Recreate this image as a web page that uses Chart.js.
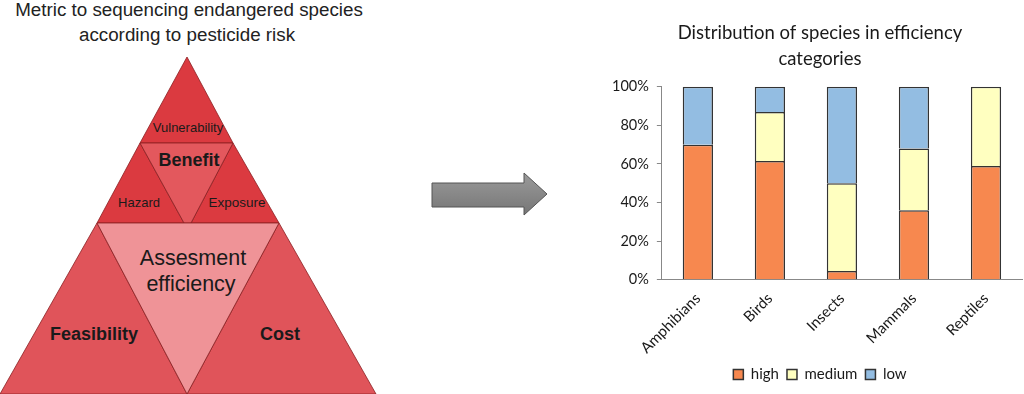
<!DOCTYPE html>
<html>
<head>
<meta charset="utf-8">
<script src="https://cdn.jsdelivr.net/npm/chart.js@4.4.1/dist/chart.umd.min.js"></script>
<style>
  html, body { margin: 0; padding: 0; background: #fff; width: 1024px; height: 394px; overflow: hidden; }
  #left { position: absolute; left: 0; top: 0; }
  #wrap { position: absolute; left: 600px; top: 0; width: 440px; height: 394px; }
</style>
</head>
<body>
<svg id="left" width="600" height="394" xmlns="http://www.w3.org/2000/svg">
  <defs>
    <linearGradient id="ag" x1="0" y1="0" x2="0" y2="1">
      <stop offset="0" stop-color="#9a9a9a"/>
      <stop offset="1" stop-color="#767676"/>
    </linearGradient>
  </defs>
  <g font-family="Liberation Sans, Arial, sans-serif" fill="#222">
    <text x="189" y="16" font-size="18.8" text-anchor="middle">Metric to sequencing endangered species</text>
    <text x="187" y="41" font-size="18.8" text-anchor="middle">according to pesticide risk</text>
  </g>
  <g stroke="#8a1f22" stroke-width="0.8" stroke-linejoin="round">
    <polygon points="187,57 233,143 140,143" fill="#db3a40"/>
    <polygon points="140,143 184,223 97,223" fill="#db3a40"/>
    <polygon points="233,143 279,223 191,223" fill="#db3a40"/>
    <polygon points="140,143 233,143 191,223 184,223" fill="#e3585d"/>
    <polygon points="97,223 187,394 0,394" fill="#e0545a"/>
    <polygon points="279,223 376,394 187,394" fill="#e0545a"/>
    <polygon points="97,223 279,223 187,394" fill="#ef9397"/>
  </g>
  <g font-family="Liberation Sans, Arial, sans-serif" fill="#1a1a1a" text-anchor="middle">
    <text x="188" y="132" font-size="13">Vulnerability</text>
    <text x="189" y="166" font-size="18" font-weight="bold">Benefit</text>
    <text x="139" y="207" font-size="13">Hazard</text>
    <text x="237" y="207" font-size="13.5">Exposure</text>
    <text x="193" y="265" font-size="21.5">Assesment</text>
    <text x="191" y="291" font-size="21.5">efficiency</text>
    <text x="94" y="340" font-size="18" font-weight="bold">Feasibility</text>
    <text x="280" y="340" font-size="18" font-weight="bold">Cost</text>
  </g>
  <polygon points="432,183 524,183 524,173 547,194 524,215 524,207 432,207" fill="url(#ag)" stroke="#555" stroke-width="1"/>
</svg>
<div id="wrap"><canvas id="c" width="440" height="394"></canvas></div>
<script>
const categories = ['Amphibians', 'Birds', 'Insects', 'Mammals', 'Reptiles'];
const seriesNames = ['high', 'medium', 'low'];
const highValues = [70, 61.5, 4.5, 36, 59];
const mediumValues = [0, 25.5, 45.5, 32, 41];
const lowValues = [30, 13, 50, 32, 0];
const yTickValues = [0, 20, 40, 60, 80, 100];
const chartTitle = ['Distribution of species in efficiency', 'categories'];

const colors = ['#f7884f', '#ffffc0', '#93bde2'];
const fontFamily = 'Lato, "Open Sans", sans-serif';

const ds = [highValues, mediumValues, lowValues].map((vals, i) => ({
  label: seriesNames[i],
  data: vals.map(v => (v === 0 ? null : v)),
  backgroundColor: colors[i],
  borderColor: '#333333',
  borderWidth: 1.5,
  borderSkipped: 'start',
  barPercentage: 0.42,
  categoryPercentage: 1.0
}));

new Chart(document.getElementById('c'), {
  type: 'bar',
  data: { labels: categories, datasets: ds },
  options: {
    responsive: false,
    devicePixelRatio: 1,
    animation: false,
    layout: { padding: { left: 4, right: 4, top: 0, bottom: 2 } },
    plugins: {
      title: {
        display: true,
        text: chartTitle,
        color: '#1a1a1a',
        font: { family: fontFamily, size: 18.5, weight: 'normal', lineHeight: 1.4 },
        padding: { top: 20, bottom: 15 }
      },
      legend: {
        position: 'bottom',
        labels: {
          color: '#1a1a1a',
          font: { family: fontFamily, size: 15 },
          boxWidth: 10,
          boxHeight: 10,
          padding: 8
        }
      },
      tooltip: { enabled: false }
    },
    scales: {
      x: {
        stacked: true,
        grid: { display: false },
        border: { color: '#888', width: 1 },
        ticks: { color: '#1a1a1a', font: { family: fontFamily, size: 15 }, minRotation: 45, maxRotation: 45, padding: 2 }
      },
      y: {
        stacked: true,
        min: 0,
        max: 100,
        afterBuildTicks: (scale) => { scale.ticks = yTickValues.map(v => ({ value: v })); },
        grid: { drawOnChartArea: false, tickLength: 5, color: '#888' },
        border: { color: '#888', width: 1 },
        ticks: { color: '#1a1a1a', font: { family: fontFamily, size: 14.5 }, padding: 8, callback: (v) => v + '%' }
      },
      ySpacer: {
        position: 'right',
        min: 0,
        max: 100,
        grid: { display: false },
        border: { display: false },
        ticks: { display: false },
        afterFit: (scale) => { scale.width = 14; }
      }
    }
  }
});
</script>
</body>
</html>
